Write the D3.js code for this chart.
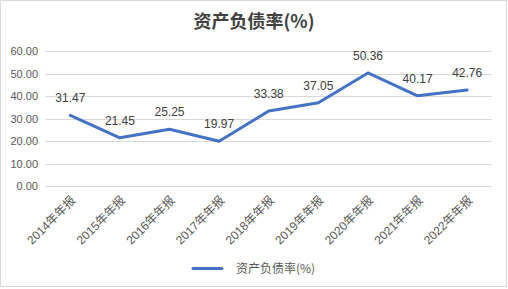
<!DOCTYPE html>
<html><head><meta charset="utf-8">
<script src="https://cdn.jsdelivr.net/npm/d3@7"></script>
<style>body{margin:0;background:#fff}svg{display:block}</style>
</head><body>
<script>
const categories = ["2014年年报","2015年年报","2016年年报","2017年年报","2018年年报","2019年年报","2020年年报","2021年年报","2022年年报"];
const values = [31.47,21.45,25.25,19.97,33.38,37.05,50.36,40.17,42.76];
const yTicks = [0,10,20,30,40,50,60];
const seriesName = "资产负债率(%)";
const title = "资产负债率(%)";

const W=508,H=289;
const svg=d3.select("body").append("svg").attr("width",W).attr("height",H);
svg.append("rect").attr("x",0.5).attr("y",0.5).attr("width",506).attr("height",286)
  .attr("fill","#fff").attr("stroke","#d9d9d9");

const x=d3.scaleBand().domain(categories).range([45.5,492]);
const y=d3.scaleLinear().domain([0,60]).range([186,51.3]);
const font='"Liberation Sans", Arial, sans-serif';

svg.append("text").attr("x",254).attr("y",28).attr("text-anchor","middle")
  .attr("font-family",'"Noto Sans CJK SC", sans-serif').attr("font-weight","bold")
  .attr("font-size",18).attr("fill","#404040").text(title);

// grid
svg.append("g").selectAll("line").data(yTicks).join("line")
  .attr("x1",45.5).attr("x2",492).attr("y1",d=>Math.round(y(d))+0.5).attr("y2",d=>Math.round(y(d))+0.5)
  .attr("stroke","#d9d9d9").attr("stroke-width",1);

// y axis
const ya=svg.append("g").attr("transform","translate(38,0)")
  .call(d3.axisLeft(y).tickValues(yTicks).tickFormat(d3.format(".2f")).tickSize(0).tickPadding(0));
ya.select(".domain").remove();
ya.selectAll("text").attr("font-family",font).attr("font-size",11).attr("fill","#595959");

// x axis
const xa=svg.append("g").attr("transform","translate(0,186)")
  .call(d3.axisBottom(x).tickSize(0).tickPadding(0));
xa.select(".domain").remove();
xa.selectAll("text").attr("font-family",'"Liberation Sans","Noto Sans CJK SC",sans-serif').attr("font-size",12).attr("fill","#595959")
  .attr("text-anchor","end").attr("dy",0).attr("y",0)
  .attr("transform","translate(6,15) rotate(-45)");

// line
const cx=d=>x(d)+x.bandwidth()/2;
const line=d3.line().x((d,i)=>cx(categories[i])).y(d=>y(d));
svg.append("path").datum(values).attr("d",line).attr("fill","none")
  .attr("stroke","#4472C4").attr("stroke-width",3).attr("stroke-linejoin","round").attr("stroke-linecap","round");

// labels
svg.append("g").selectAll("text").data(values).join("text")
  .attr("x",(d,i)=>cx(categories[i])).attr("y",d=>y(d)-13)
  .attr("text-anchor","middle").attr("font-family",font).attr("font-size",12).attr("fill","#404040")
  .text(d=>d.toFixed(2));

// legend
svg.append("line").attr("x1",193).attr("x2",222).attr("y1",268.5).attr("y2",268.5)
  .attr("stroke","#4472C4").attr("stroke-width",3).attr("stroke-linecap","round");
svg.append("text").attr("x",236).attr("y",273).attr("font-family",'"Noto Sans CJK SC",sans-serif')
  .attr("font-size",12).attr("fill","#595959").text(seriesName);
</script>
</body></html>
